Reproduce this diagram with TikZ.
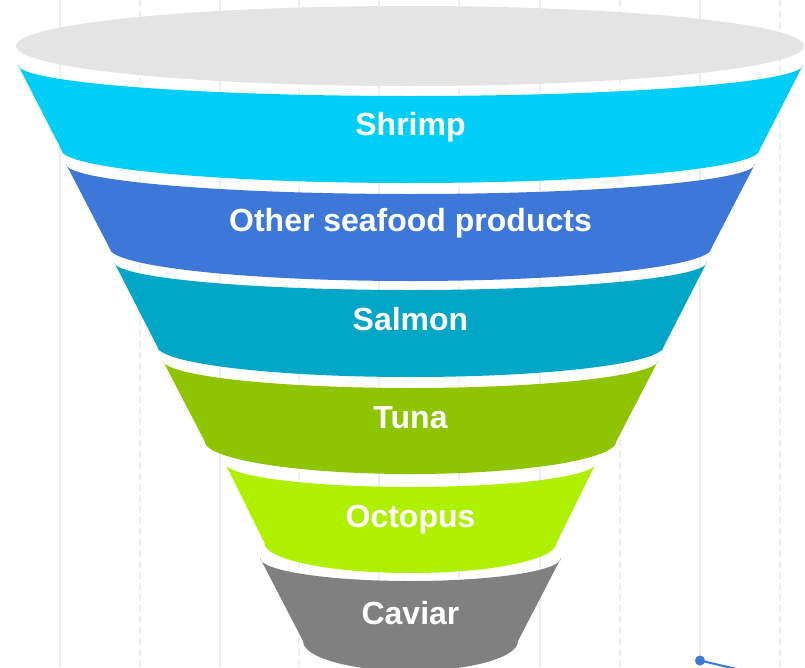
\documentclass[tikz,border=0pt]{standalone}
\usepackage{fontspec}
\setmainfont{Liberation Sans}
\begin{document}
\definecolor{gridline}{HTML}{EEEEEE}
\definecolor{rimgray}{HTML}{E4E4E4}
\definecolor{cShrimp}{HTML}{00CEF6}
\definecolor{cOther}{HTML}{3D78D8}
\definecolor{cSalmon}{HTML}{02A6C7}
\definecolor{cTuna}{HTML}{8EC400}
\definecolor{cOctopus}{HTML}{AFF000}
\definecolor{cCaviar}{HTML}{808080}
\definecolor{cMarker}{HTML}{3B78D8}
\begin{tikzpicture}[x=1pt,y=-1pt,
  gridsolid/.style={draw=gridline,line width=1.5pt},
  griddash/.style={draw=gridline,line width=1.5pt,dash pattern=on 7pt off 4pt},
  bandlabel/.style={text=white,font=\fontsize{32}{38}\selectfont\bfseries,anchor=base,inner sep=0pt},
  markerline/.style={draw=cMarker,line width=2pt}]
  \useasboundingbox (0,0) rectangle (805,667);
  \fill[white] (0,0) rectangle (805,667);

  % vertical grid lines, solid and dashed in turn
  \foreach \gx in {60,220,379,540,700} \draw[gridsolid] (\gx,0) -- (\gx,667);
  \foreach \gx in {140,299,459,620,780} \draw[griddash] (\gx,0) -- (\gx,667);

  % rim of the funnel
  \fill[rimgray] (410,46) ellipse [x radius=394, y radius=40];

  % bands: top y / top half-width / top depth / bottom y / bottom half-width / bottom depth / colour / name / label / baseline
  \def\cx{410.5}
  \foreach \yt/\wt/\rt/\yb/\wb/\rb/\col/\nm/\txt/\bl in {
      65/392.5/31/150/349/33/cShrimp/shrimp/Shrimp/135,
      164/344.5/30/248/301/33/cOther/other/Other seafood products/231,
      262/296.5/28/346/253.5/31/cSalmon/salmon/Salmon/330,
      360/248/28/441/206/33/cTuna/tuna/Tuna/428,
      463/185.5/24/543/146/30/cOctopus/octopus/Octopus/527,
      558/150.5/23/641/107.5/30/cCaviar/caviar/Caviar/624}{
    \fill[\col] ({\cx-\wt},\yt)
        arc[start angle=180, end angle=0, x radius=\wt, y radius=\rt]
        -- ({\cx+\wb},\yb)
        arc[start angle=0, end angle=180, x radius=\wb, y radius=\rb]
        -- cycle;
    \node[bandlabel] (\nm) at (\cx,\bl) {\txt};
  }

  % data point marker at the lower right
  \coordinate (pt) at (700,660.5);
  \coordinate (ptnext) at (745,671);
  \draw[markerline] (pt) -- (ptnext);
  \fill[cMarker] (pt) circle[radius=5];
\end{tikzpicture}
\end{document}
